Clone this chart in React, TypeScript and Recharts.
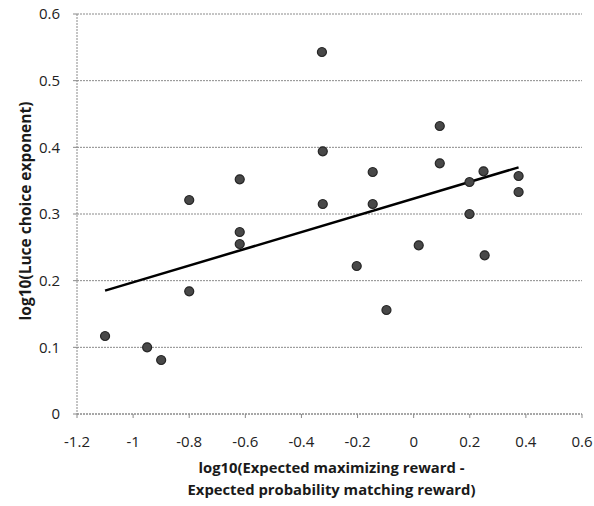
import {
  ScatterChart,
  Scatter,
  XAxis,
  YAxis,
  ZAxis,
  CartesianGrid,
  ReferenceLine,
} from "recharts";

const xValues = [
  -1.1, -0.95, -0.9, -0.8, -0.8, -0.62, -0.62, -0.62, -0.327, -0.324, -0.324,
  -0.146, -0.146, 0.093, 0.093, 0.199, 0.249, 0.374, 0.374, 0.199, 0.018,
  -0.203, -0.097, 0.253,
];
const yValues = [
  0.117, 0.1, 0.081, 0.184, 0.321, 0.352, 0.273, 0.255, 0.543, 0.394, 0.315,
  0.363, 0.315, 0.432, 0.376, 0.348, 0.364, 0.357, 0.333, 0.3, 0.253, 0.222,
  0.156, 0.238,
];
const trendX = [-1.1, 0.374];
const trendY = [0.185, 0.37];
const xTicks = [-1.2, -1, -0.8, -0.6, -0.4, -0.2, 0, 0.2, 0.4, 0.6];
const yTicks = [0, 0.1, 0.2, 0.3, 0.4, 0.5, 0.6];

const points = xValues.map((x, i) => ({ x, y: yValues[i] }));

const font = "'Open Sans', 'DejaVu Sans', sans-serif";

function YTitle({ viewBox }: any) {
  const cy = viewBox.y + viewBox.height / 2 - 3;
  return (
    <text
      x={25}
      y={cy}
      transform={`rotate(-90, 25, ${cy})`}
      textAnchor="middle"
      dominantBaseline="central"
      fontFamily={font}
      fontWeight="bold"
      fontSize={15.5}
      fill="#1a1a1a"
    >
      log10(Luce choice exponent)
    </text>
  );
}

function XTitle({ viewBox }: any) {
  const cx = viewBox.x + viewBox.width / 2 + 2;
  return (
    <text
      textAnchor="middle"
      fontFamily={font}
      fontWeight="bold"
      fontSize={14.8}
      fill="#1a1a1a"
    >
      <tspan x={cx} y={viewBox.y + 59}>
        log10(Expected maximizing reward -
      </tspan>
      <tspan x={cx} y={viewBox.y + 81}>
        Expected probability matching reward)
      </tspan>
    </text>
  );
}

export default function App() {
  return (
    <div style={{ position: "absolute", left: 0, top: 0, background: "#fff" }}>
      <ScatterChart
        width={594}
        height={506}
        margin={{ top: 14, right: 12, left: 0, bottom: 20 }}
      >
        <CartesianGrid
          vertical={false}
          stroke="#8a8a8a"
          strokeDasharray="2 1"
        />
        <XAxis
          type="number"
          dataKey="x"
          domain={[-1.2, 0.6]}
          ticks={xTicks}
          height={72}
          axisLine={{ stroke: "#8a8a8a", strokeDasharray: "2 1" }}
          tickLine={{ stroke: "#8a8a8a" }}
          tickSize={4}
          tickMargin={18}
          tick={{ fill: "#222", fontSize: 15, fontFamily: font }}
          label={<XTitle />}
        />
        <YAxis
          type="number"
          dataKey="y"
          domain={[0, 0.6]}
          ticks={yTicks}
          width={77}
          axisLine={{ stroke: "#8a8a8a", strokeDasharray: "2 1" }}
          tickLine={{ stroke: "#8a8a8a" }}
          tickSize={4}
          tickMargin={13}
          tick={{ fill: "#222", fontSize: 15, fontFamily: font }}
          label={<YTitle />}
        />
        <ZAxis range={[120, 120]} />
        <Scatter
          data={points}
          fill="#484848"
          stroke="#262626"
          strokeWidth={1.2}
          shape="circle"
          isAnimationActive={false}
        />
        <ReferenceLine
          segment={[
            { x: trendX[0], y: trendY[0] },
            { x: trendX[1], y: trendY[1] },
          ]}
          stroke="#000"
          strokeWidth={2.5}
        />
      </ScatterChart>
    </div>
  );
}
